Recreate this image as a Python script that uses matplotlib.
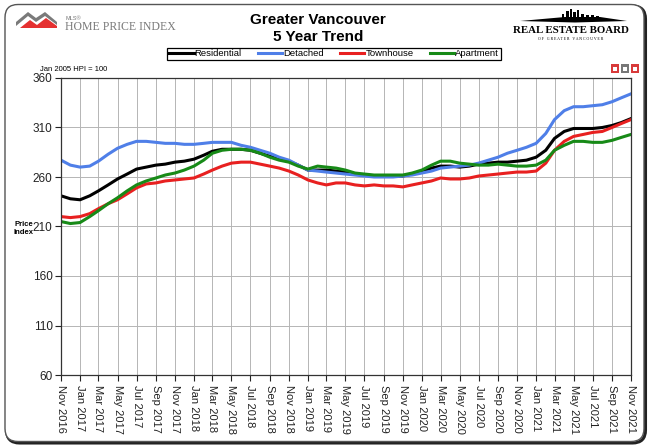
import pandas as pd
import matplotlib.pyplot as plt
from matplotlib.patches import FancyBboxPatch, Polygon, Rectangle

plt.rcParams['font.family'] = ['Liberation Sans', 'DejaVu Sans']

# monthly HPI values, Nov 2016 .. Nov 2021 (Jan 2005 = 100)
start_month = '2016-11-01'
residential = [241, 238, 237, 241, 246, 252, 258, 263, 268, 270, 272, 273, 275,
               276, 278, 282, 286, 288, 288, 288, 287, 284, 281, 278, 276, 272,
               267, 267, 267, 266, 265, 263, 262, 261, 261, 261, 261, 263, 266,
               269, 271, 271, 270, 271, 273, 274, 275, 275, 276, 277, 280, 287,
               299, 306, 309, 309, 309, 310, 312, 315, 319]
detached = [277, 272, 270, 271, 276, 283, 289, 293, 296, 296, 295, 294, 294,
            293, 293, 294, 295, 295, 295, 292, 290, 287, 284, 280, 277, 272,
            267, 266, 265, 264, 263, 262, 261, 260, 260, 260, 261, 262, 264,
            266, 269, 270, 271, 272, 274, 277, 280, 284, 287, 290, 294, 304,
            318, 327, 331, 331, 332, 333, 336, 340, 344]
townhouse = [220, 219, 220, 223, 228, 233, 237, 243, 249, 253, 254, 256, 257,
             258, 259, 263, 267, 271, 274, 275, 275, 273, 271, 269, 266, 262,
             257, 254, 252, 254, 254, 252, 251, 252, 251, 251, 250, 252, 254,
             256, 259, 258, 258, 259, 261, 262, 263, 264, 265, 265, 266, 274,
             287, 296, 301, 303, 305, 306, 310, 314, 318]
apartment = [215, 213, 214, 220, 226, 233, 239, 246, 252, 256, 259, 262, 264,
             267, 271, 277, 284, 287, 288, 288, 287, 284, 280, 277, 275, 271,
             268, 271, 270, 269, 267, 264, 263, 262, 262, 262, 262, 264, 267,
             272, 276, 276, 274, 273, 272, 272, 273, 272, 271, 271, 272, 277,
             287, 292, 296, 296, 295, 295, 297, 300, 303]
y_ticks = [60, 110, 160, 210, 260, 310, 360]

months = pd.date_range(start_month, periods=len(residential), freq='MS')
tick_months = months[::2]
tick_labels = [m.strftime('%b %Y') for m in tick_months]

W, H = 648, 448
fig = plt.figure(figsize=(W / 100, H / 100), dpi=100)


def fx(x):
    return x / W


def fy(y):
    return 1 - y / H


def poly(points, **kw):
    fig.patches.append(Polygon([(fx(x), fy(y)) for x, y in points],
                               closed=True, transform=fig.transFigure, **kw))


def rect(x0, y0, x1, y1, **kw):
    fig.patches.append(Rectangle((fx(x0), fy(y1)), (x1 - x0) / W, (y1 - y0) / H,
                                 transform=fig.transFigure, **kw))


# outer rounded frame with a little shadow (kept underneath the axes)
fig.patches.append(FancyBboxPatch((0.065, 0.05), 6.39, 4.37,
                                  boxstyle='round,pad=0,rounding_size=0.13',
                                  transform=fig.dpi_scale_trans, fill=False,
                                  ec='#222222', lw=2.2, zorder=-2))
fig.patches.append(FancyBboxPatch((0.05, 0.065), 6.39, 4.37,
                                  boxstyle='round,pad=0,rounding_size=0.13',
                                  transform=fig.dpi_scale_trans, fc='white',
                                  ec='#555555', lw=1.0, zorder=-1))

ax = fig.add_axes([fx(61), fy(375), (631 - 61) / W, (375 - 78) / H])
ax.plot(months, residential, color='black', lw=2.2, label='Residential')
ax.plot(months, detached, color='#4f7fe8', lw=2.2, label='Detached')
ax.plot(months, townhouse, color='#e82020', lw=2.2, label='Townhouse')
ax.plot(months, apartment, color='#178a17', lw=2.2, label='Apartment')

ax.set_xlim(months[0], months[-1])
ax.set_ylim(y_ticks[0], y_ticks[-1])
ax.set_yticks(y_ticks)
ax.set_xticks(tick_months)
ax.set_xticklabels(tick_labels, rotation=270, fontsize=8)
ax.tick_params(axis='y', labelsize=8.5, length=4, width=0.8, colors='#222222', pad=2)
ax.tick_params(axis='x', length=4, width=0.8, colors='#222222', pad=3)
ax.grid(True, color='#b5b5b5', lw=0.7)
for s in ax.spines.values():
    s.set_color('#333333')
    s.set_linewidth(0.9)

fig.legend(loc='center', bbox_to_anchor=(fx(334), fy(54)), ncol=4, fontsize=6.8,
           frameon=True, fancybox=False, edgecolor='black', framealpha=1,
           handlelength=2.6, handletextpad=0.1, columnspacing=1.7,
           borderpad=0.2).get_frame().set_linewidth(0.9)

fig.text(fx(318), fy(20), 'Greater Vancouver', ha='center', va='center',
         fontsize=11, fontweight='bold')
fig.text(fx(318), fy(37), '5 Year Trend', ha='center', va='center',
         fontsize=11, fontweight='bold')
fig.text(fx(40), fy(69), 'Jan 2005 HPI = 100', ha='left', va='center', fontsize=5.5)
fig.text(fx(24), fy(228), 'Price\nIndex', ha='center', va='center', fontsize=5.5,
         fontweight='bold', linespacing=1.2)

# MLS Home Price Index logo
poly([(16, 22), (28, 12), (36, 18), (45, 12), (57, 22), (57, 25), (45, 16),
      (36, 22), (28, 16), (16, 26)], fc='#7a7a7a', ec='none')
poly([(20, 28), (30, 20), (37, 25), (46, 18), (57, 26), (57, 28)], fc='#e53030', ec='none')
fig.text(fx(66), fy(19), 'MLS®', ha='left', va='center', fontsize=4, color='#777777')
fig.text(fx(65), fy(26.5), 'HOME PRICE INDEX', ha='left', va='center', fontsize=8.5,
         color='#7a7a7a', family='Liberation Serif')

# Real Estate Board logo
poly([(520, 21), (565, 17), (600, 17), (627, 21), (575, 22.5)], fc='black', ec='none')
for x0, top, w in [(562, 14, 2), (566, 11, 3), (570, 9, 2), (573, 12, 3), (577, 10, 2),
                   (581, 14, 3), (586, 15, 3), (591, 15, 3), (596, 16, 3)]:
    rect(x0, top, x0 + w, 18, fc='black', ec='none')
fig.text(fx(571), fy(30.5), 'REAL ESTATE BOARD', ha='center', va='center', fontsize=7.8,
         fontweight='bold', family='Liberation Serif')
fig.text(fx(571), fy(39), 'O F   G R E A T E R   V A N C O U V E R', ha='center',
         va='center', fontsize=2.8, family='Liberation Serif')
for x0, c in [(611, '#d83a3a'), (621, '#777777'), (631, '#d83a3a')]:
    rect(x0, 64, x0 + 8, 73, fc=c, ec='none')
    rect(x0 + 2, 67, x0 + 6, 71, fc='white', ec='none')

fig.savefig('out.png', dpi=100)
